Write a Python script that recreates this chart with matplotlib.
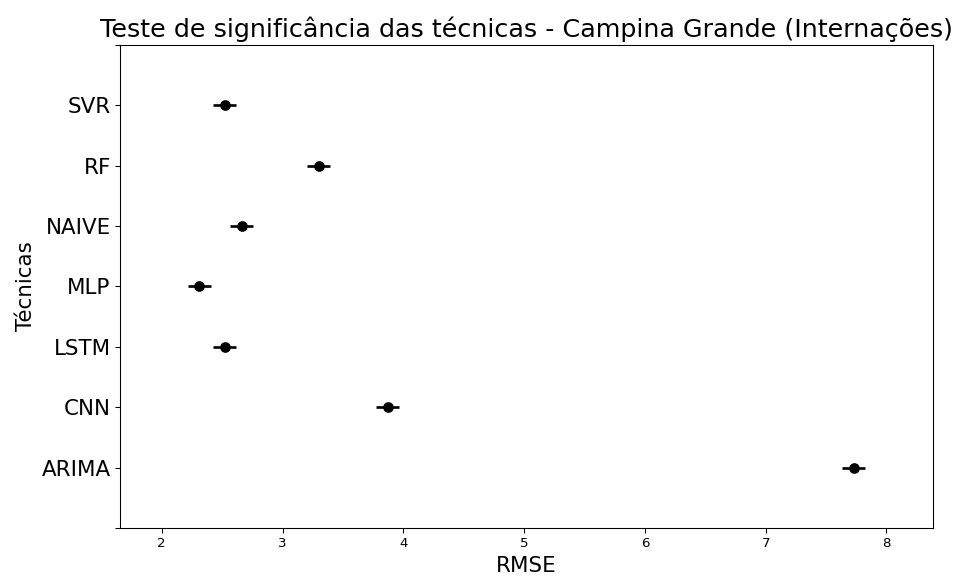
import matplotlib
matplotlib.use("Agg")
import matplotlib.pyplot as plt
import numpy as np

# Mean RMSE per technique and half-width of the simultaneous confidence interval
tecnicas = ["ARIMA", "CNN", "LSTM", "MLP", "NAIVE", "RF", "SVR"]
rmse_medio = [7.73, 3.87, 2.52, 2.31, 2.66, 3.30, 2.52]
meia_largura = [0.095, 0.095, 0.095, 0.095, 0.095, 0.095, 0.095]

fig = plt.figure(figsize=(10, 6), dpi=96)
ax = fig.add_axes([0.125, 0.0833, 0.847, 0.839])

pos = np.arange(len(tecnicas))
ax.errorbar(rmse_medio, pos, xerr=meia_largura, marker="o", linestyle="None",
            color="k", ecolor="k", markersize=7, elinewidth=2)

lo = np.array(rmse_medio) - np.array(meia_largura)
hi = np.array(rmse_medio) + np.array(meia_largura)
r = hi.max() - lo.min()
ax.set_xlim(lo.min() - r / 10.0, hi.max() + r / 10.0)
ax.set_ylim(-1, len(tecnicas))
ax.set_yticks(np.arange(-1, len(tecnicas) + 1))
ax.set_yticklabels([""] + tecnicas + [""], fontsize=16)
ax.tick_params(axis="x", labelsize=10)

ax.set_title("Teste de significância das técnicas - Campina Grande (Internações)",
             fontsize=19)
ax.set_xlabel("RMSE", fontsize=16)
ax.set_ylabel("Técnicas", fontsize=16)

fig.savefig("out.png", dpi=96)
